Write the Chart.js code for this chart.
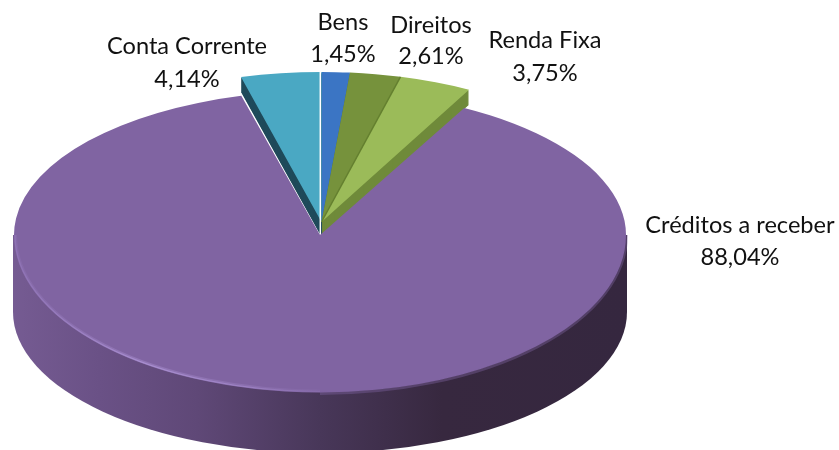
<!DOCTYPE html>
<html><head><meta charset="utf-8">
<style>html,body{margin:0;padding:0;background:#fff}canvas{display:block}</style>
<script src="https://cdn.jsdelivr.net/npm/chart.js@4"></script>
</head><body><canvas id="c" width="839" height="450"></canvas>
<script>
const categories = ['Bens','Direitos','Renda Fixa','Créditos a receber','Conta Corrente'];
const shares = [1.45,2.61,3.75,88.04,4.14];
const topColors = ['#3b75c4','#76923c','#9bbb59','#8064a2','#4aa8c3'];
const wallColors = ['#2d5d94','#5f7a30','#6f8a3a','#8064a2','#1f4a5a'];
const labelSpots = [[343,30,62],[431,33,64],[545,48,81],[740,233,265],[187,54,87]];

const smallView = {x:321.5,y:222,rx:313,ry:150,depth:15};
const mainView = {x:320,y:235,rx:306,back:144,front:157.5};
const sideView = {y:312,ry:141};

function placed(ctx,el,cx,cy,rx,ry,dy){
  const R=el.outerRadius;
  ctx.translate(cx,cy+(dy||0));
  ctx.scale(rx/R,ry/R);
  ctx.translate(-el.x,-el.y);
}
function drawSide(ctx){
  const m=mainView,s=sideView;
  const g=ctx.createLinearGradient(m.x-m.rx,0,m.x+m.rx,0);
  g.addColorStop(0,'#755b92');g.addColorStop(.14,'#6a5186');g.addColorStop(.3,'#5f4877');
  g.addColorStop(.5,'#483759');g.addColorStop(.7,'#37283f');g.addColorStop(1,'#35273f');
  ctx.save();
  ctx.fillStyle=g;ctx.beginPath();
  ctx.moveTo(m.x-m.rx-1,m.y);
  ctx.lineTo(m.x-m.rx-1,s.y);
  ctx.ellipse(m.x,s.y,m.rx+1,s.ry,0,Math.PI,0,true);
  ctx.lineTo(m.x+m.rx+1,m.y);
  ctx.closePath();ctx.fill();
  ctx.restore();
}
function drawRim(ctx){
  const m=mainView;
  const g=ctx.createLinearGradient(m.x-m.rx,0,m.x+60,0);
  g.addColorStop(0,'rgba(150,122,190,.55)');
  g.addColorStop(.35,'rgba(172,146,212,.9)');
  g.addColorStop(.65,'rgba(165,138,205,.65)');
  g.addColorStop(1,'rgba(128,100,162,0)');
  ctx.save();
  ctx.strokeStyle=g;
  ctx.lineWidth=3;
  ctx.globalAlpha=.45;
  ctx.beginPath();ctx.ellipse(m.x,m.y,m.rx-1.5,m.front-1.5,0,Math.PI,Math.PI/2,true);ctx.stroke();
  ctx.lineWidth=1.2;
  ctx.globalAlpha=1;
  ctx.beginPath();ctx.ellipse(m.x,m.y,m.rx-1,m.front-1,0,Math.PI,Math.PI/2,true);ctx.stroke();
  ctx.lineWidth=3;
  ctx.strokeStyle='rgba(128,100,162,.4)';
  ctx.beginPath();ctx.ellipse(m.x,m.y,m.rx+.5,m.front+1,0,0,Math.PI/2);ctx.stroke();
  ctx.restore();
}
function tinted(el,color,fn){
  const o=el.options;
  el.options=Object.assign({},o,{backgroundColor:color});
  fn();el.options=o;
}
const pie3d={
  id:'pie3d',
  beforeDatasetsDraw(chart){
    const ctx=chart.ctx,els=chart.getDatasetMeta(0).data,v=smallView,m=mainView;
    const bigIndex=shares.indexOf(Math.max(...shares));
    drawSide(ctx);
    els.forEach((el,i)=>{
      if(i===bigIndex)return;
      tinted(el,wallColors[i],()=>{
        for(let d=v.depth;d>0;d--){
          ctx.save();placed(ctx,el,v.x,v.y,v.rx,v.ry,d);el.draw(ctx);ctx.restore();
        }
      });
    });
    els.forEach((el,i)=>{
      if(i===bigIndex)return;
      ctx.save();placed(ctx,el,v.x,v.y,v.rx,v.ry);el.draw(ctx);ctx.restore();
    });
    const seam=els[1];
    ctx.save();ctx.strokeStyle='#64802f';ctx.lineWidth=1.5;ctx.beginPath();
    ctx.moveTo(v.x,v.y);
    ctx.lineTo(v.x+v.rx*Math.cos(seam.endAngle),v.y+v.ry*Math.sin(seam.endAngle));
    ctx.stroke();ctx.restore();
    ctx.save();ctx.strokeStyle='#fff';ctx.lineWidth=1.5;ctx.beginPath();
    ctx.moveTo(320.3,v.y-v.ry-1);ctx.lineTo(320.3,m.y+1);ctx.stroke();ctx.restore();
    const big=els[bigIndex];
    ctx.save();ctx.beginPath();ctx.rect(0,0,chart.width,m.y);ctx.clip();
    placed(ctx,big,m.x,m.y,m.rx,m.back);big.draw(ctx);ctx.restore();
    ctx.save();ctx.beginPath();ctx.rect(0,m.y-.5,chart.width,chart.height);ctx.clip();
    placed(ctx,big,m.x,m.y,m.rx,m.front);big.draw(ctx);ctx.restore();
    drawRim(ctx);
    return false;
  },
  afterDraw(chart){
    const ctx=chart.ctx;
    ctx.save();
    ctx.font='23.6px Lato';ctx.fillStyle='#111';ctx.textAlign='center';ctx.textBaseline='alphabetic';
    categories.forEach((name,i)=>{
      const p=labelSpots[i];
      ctx.fillText(name,p[0],p[1]);
      ctx.fillText(shares[i].toFixed(2).replace('.',',')+'%',p[0],p[2]);
    });
    ctx.restore();
  }
};
new Chart(document.getElementById('c'),{
  type:'pie',
  data:{labels:categories,datasets:[{data:shares,backgroundColor:topColors,borderWidth:0,hoverOffset:0}]},
  options:{responsive:false,animation:false,events:[],
    plugins:{legend:{display:false},tooltip:{enabled:false},title:{display:false}},
    layout:{padding:0}},
  plugins:[pie3d]
});
</script></body></html>
